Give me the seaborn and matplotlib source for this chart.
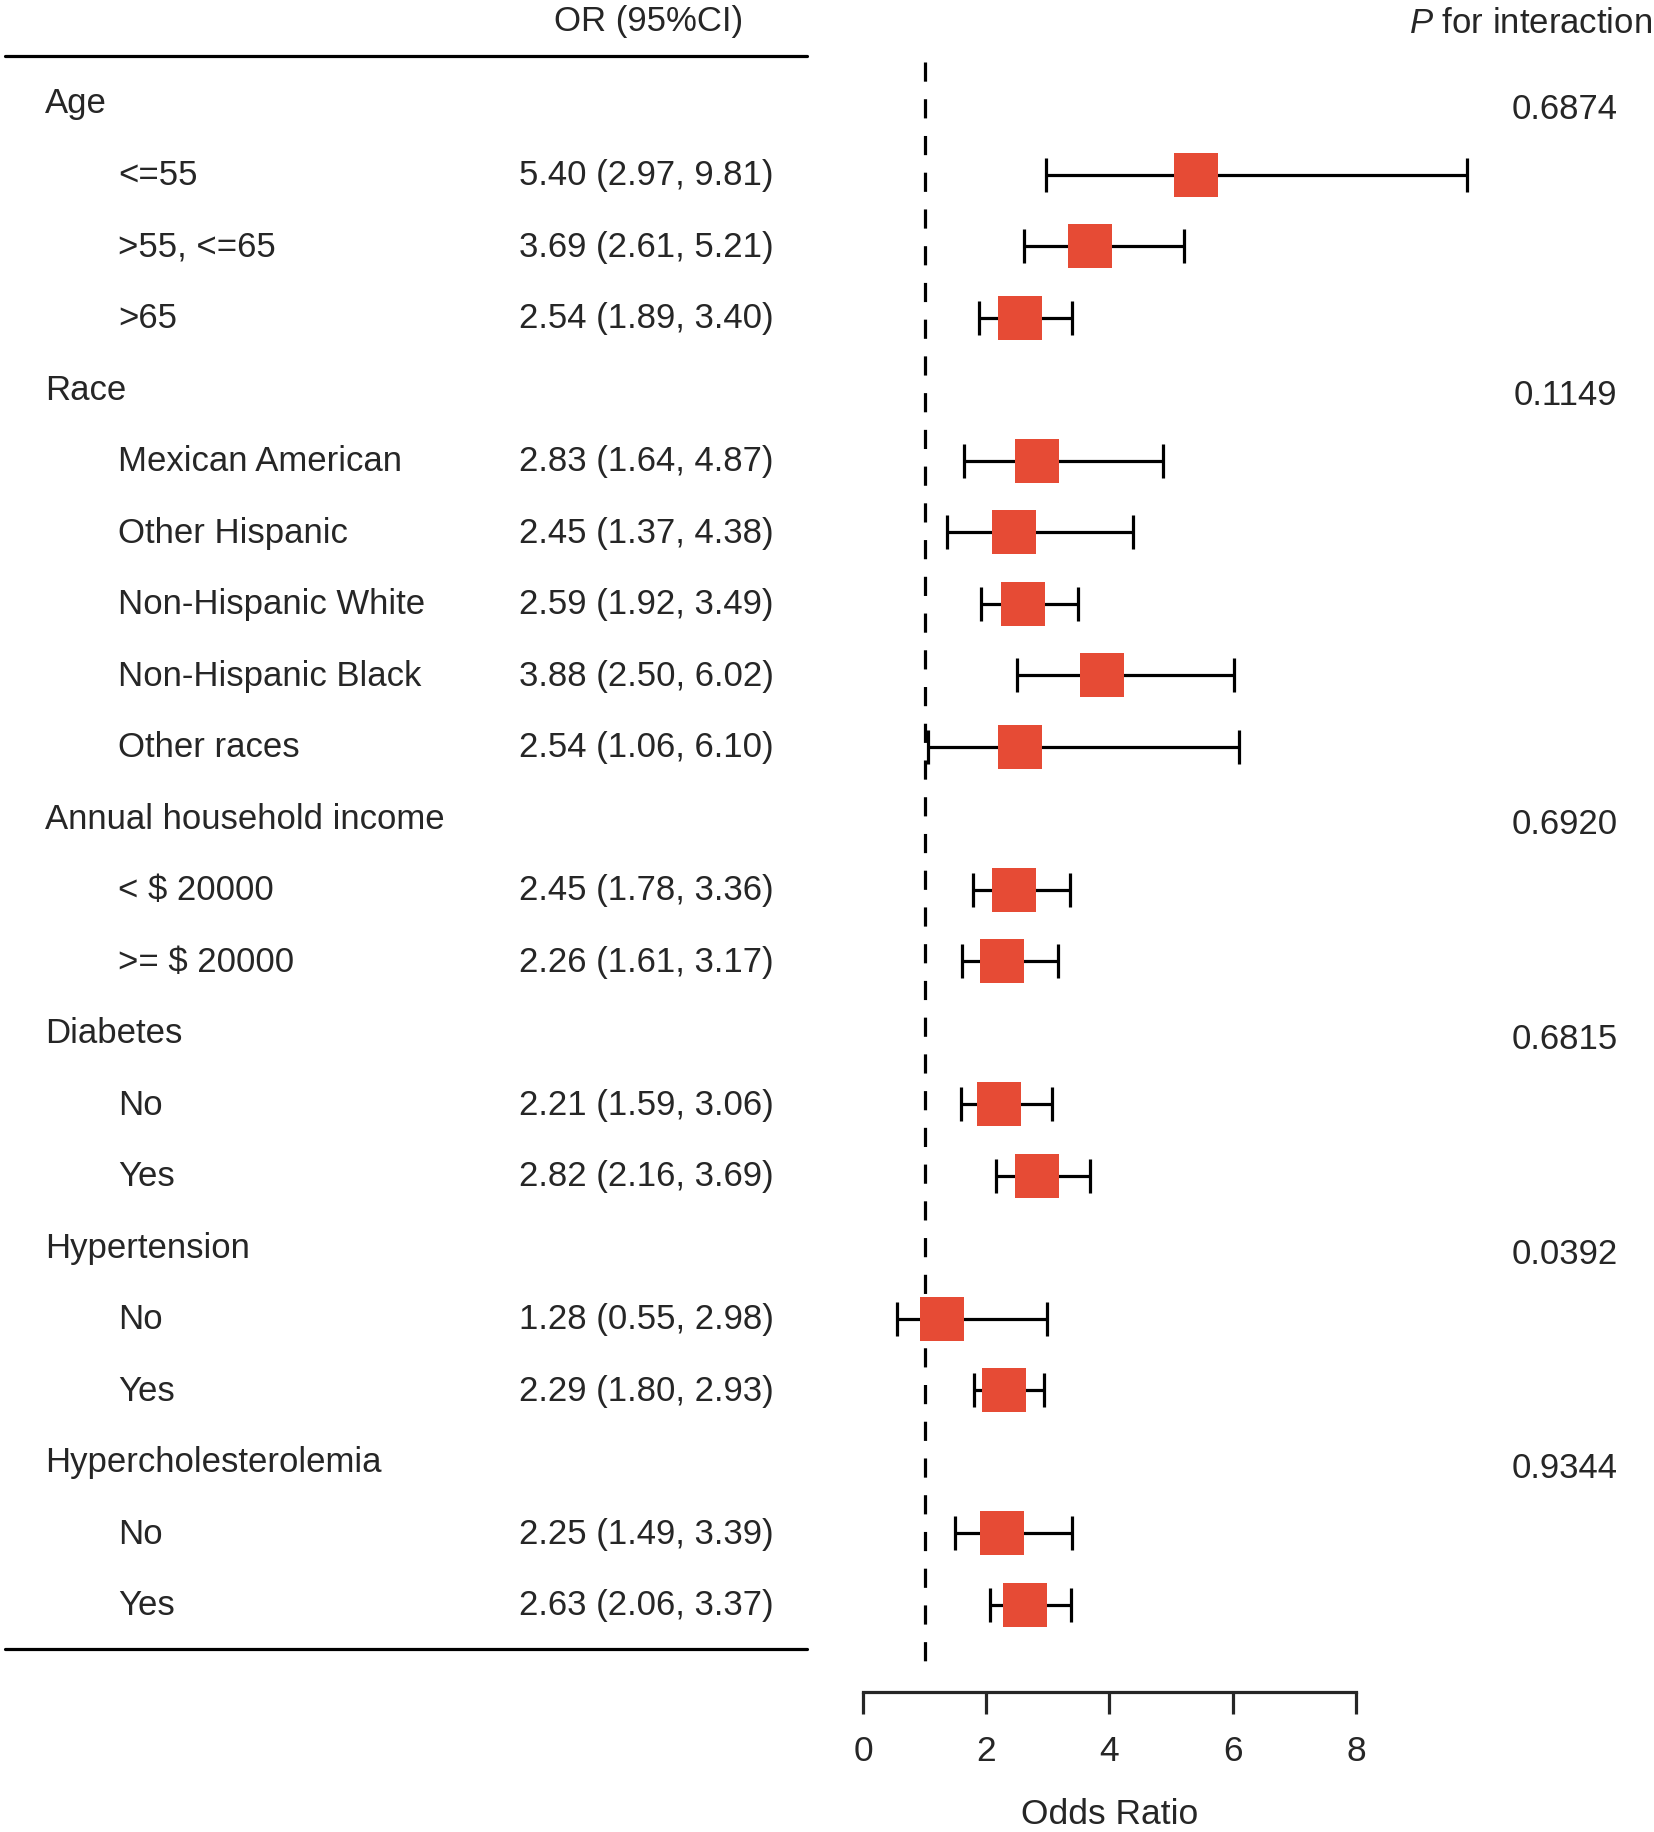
import numpy as np
import pandas as pd
import matplotlib
matplotlib.use("Agg")
import matplotlib.pyplot as plt
import seaborn as sns

# === data ===
groups = ["Age", "Race", "Annual household income", "Diabetes",
          "Hypertension", "Hypercholesterolemia"]
subgroups = [
    ["<=55", ">55, <=65", ">65"],
    ["Mexican American", "Other Hispanic", "Non-Hispanic White",
     "Non-Hispanic Black", "Other races"],
    ["< $ 20000", ">= $ 20000"],
    ["No", "Yes"],
    ["No", "Yes"],
    ["No", "Yes"],
]
p_interaction = ["0.6874", "0.1149", "0.6920", "0.6815", "0.0392", "0.9344"]

odds_ratio = [5.40, 3.69, 2.54, 2.83, 2.45, 2.59, 3.88, 2.54,
              2.45, 2.26, 2.21, 2.82, 1.28, 2.29, 2.25, 2.63]
ci_low = [2.97, 2.61, 1.89, 1.64, 1.37, 1.92, 2.50, 1.06,
          1.78, 1.61, 1.59, 2.16, 0.55, 1.80, 1.49, 2.06]
ci_high = [9.81, 5.21, 3.40, 4.87, 4.38, 3.49, 6.02, 6.10,
           3.36, 3.17, 3.06, 3.69, 2.98, 2.93, 3.39, 3.37]

x_ticks = [0, 2, 4, 6, 8]

# === build one table, one row per line of the plot ===
rows = []
k = 0
for g, subs, p in zip(groups, subgroups, p_interaction):
    rows.append(dict(label=g, header=True, p=p, OR=np.nan, lo=np.nan, hi=np.nan))
    for s in subs:
        rows.append(dict(label=s, header=False, p="", OR=odds_ratio[k],
                         lo=ci_low[k], hi=ci_high[k]))
        k += 1
df = pd.DataFrame(rows)
df["row"] = np.arange(len(df))
sub = df[~df["header"]]

# === style ===
sns.set_style("white")
plt.rcParams["font.family"] = ["Liberation Sans", "DejaVu Sans"]
plt.rcParams["mathtext.fontset"] = "custom"
plt.rcParams["mathtext.it"] = "Liberation Sans:italic"
plt.rcParams["mathtext.rm"] = "Liberation Sans"
fs = 25
red = "#E64B35"

fig = plt.figure(figsize=(16.54, 18.33), dpi=100)
ax = fig.add_axes([0, 0, 1, 1])
ax.set_xlim(-14.005, 12.837)
ax.set_ylim(24.175, -1.454)

# CI whiskers + squares
ax.errorbar(sub["OR"], sub["row"],
            xerr=[sub["OR"] - sub["lo"], sub["hi"] - sub["OR"]],
            fmt="none", ecolor="black", elinewidth=2.3, capsize=12,
            capthick=2.3, zorder=2)
sns.scatterplot(data=sub, x="OR", y="row", marker="s", s=960,
                color=red, linewidth=0, zorder=3, ax=ax)

# reference line at OR = 1
ax.vlines(1, -0.57, 21.92, colors="black", linewidth=2.3,
          linestyles=(0, (6, 5.5)), zorder=1)

# left table
tr = ax.get_yaxis_transform()
for _, r in df.iterrows():
    if r["header"]:
        ax.text(0.027, r["row"], r["label"], transform=tr, fontsize=fs,
                va="center", ha="left")
        ax.text(0.978, r["row"] + 0.08, r["p"], transform=tr, fontsize=fs,
                va="center", ha="right")
    else:
        ax.text(0.0713, r["row"], r["label"], transform=tr, fontsize=fs,
                va="center", ha="left")
        txt = f"{r['OR']:.2f} ({r['lo']:.2f}, {r['hi']:.2f})"
        ax.text(0.391, r["row"], txt, transform=tr, fontsize=fs,
                va="center", ha="center")

ax.text(0.392, -1.147, "OR (95%CI)", transform=tr, fontsize=fs,
        va="center", ha="center")
ax.text(0.999, -1.12, r"$\it{P}$ for interaction", transform=tr,
        fontsize=fs, va="center", ha="right")
ax.plot([0.003, 0.488], [-0.657, -0.657], transform=tr, color="black",
        linewidth=2.3, clip_on=False)
ax.plot([0.003, 0.488], [21.617, 21.617], transform=tr, color="black",
        linewidth=2.3, clip_on=False)

# bottom axis
for s in ["top", "left", "right"]:
    ax.spines[s].set_visible(False)
ax.spines["bottom"].set_position(("data", 22.218))
ax.spines["bottom"].set_bounds(0, 8)
ax.spines["bottom"].set_linewidth(2.3)
ax.set_xticks(x_ticks)
ax.set_yticks([])
ax.tick_params(axis="x", direction="out", length=16, width=2.3, pad=14,
               labelsize=fs + 0.5, bottom=True)
ax.set_xlabel("")
ax.set_ylabel("")
ax.text(4, 23.92, "Odds Ratio", fontsize=fs + 0.5, va="center", ha="center")

fig.savefig("out.png", dpi=100)
